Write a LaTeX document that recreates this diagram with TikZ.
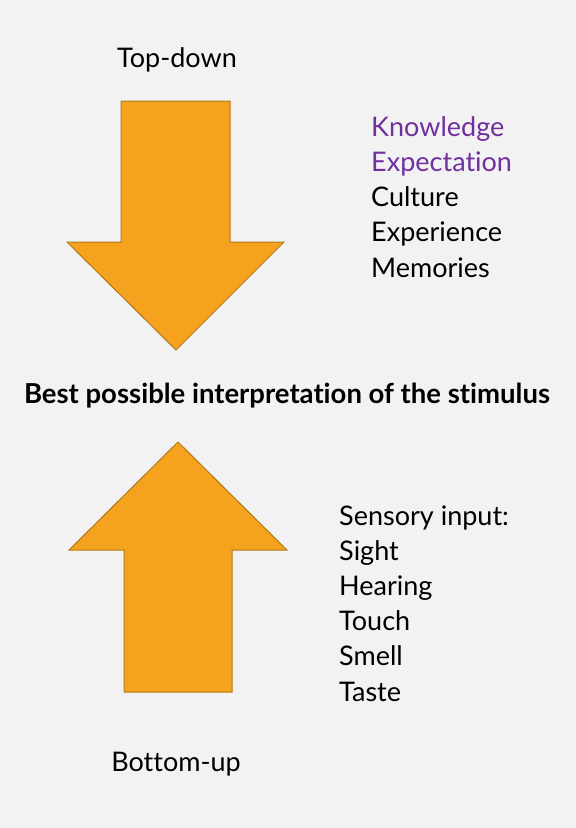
\documentclass[tikz,border=0pt]{standalone}
\usepackage{fontspec}
\setmainfont{Lato}[Ligatures={NoCommon}]
\usepackage{tikz}
\usetikzlibrary{positioning}
\definecolor{bggray}{HTML}{F2F2F2}
\definecolor{arroworange}{HTML}{F5A31E}
\definecolor{arrowedge}{HTML}{B07A18}
\definecolor{listpurple}{HTML}{7030A0}

\begin{document}
\begin{tikzpicture}[x=1pt, y=-1pt]
    % Define styles for the shapes and texts
    \tikzstyle{bigarrow} = [
        fill=arroworange, draw=arrowedge, line width=1pt,
        line join=miter
    ]
    \tikzstyle{caption} = [
        inner sep=0, anchor=base, font=\fontsize{27}{32}\selectfont
    ]
    % (base of a list = baseline of its last line)
    \tikzstyle{itemlist} = [
        inner sep=0, anchor=base west, align=left,
        font=\fontsize{27}{35.2}\selectfont
    ]

    % Background
    \fill[bggray] (0,0) rectangle (576,828);
    \useasboundingbox (0,0) rectangle (576,828);

    % Top-down arrow
    \draw[bigarrow] (121,101) -- (230,101) -- (230,242) -- (284,242)
        -- (176,350) -- (67,242) -- (121,242) -- cycle;

    % Bottom-up arrow
    \draw[bigarrow] (124,692) -- (232,692) -- (232,550) -- (287,550)
        -- (178,442) -- (69,550) -- (124,550) -- cycle;

    % Captions
    \node[caption] (top_down) at (177,67) {Top-down};
    \node[caption] (bottom_up) at (176,771) {Bottom-up};
    \node[
        inner sep=0, anchor=base,
        font=\fontsize{27.5}{32}\bfseries\selectfont
    ] (best) at (287,403) {Best possible interpretation of the stimulus};

    % Top-down list
    \node[itemlist] (knowledge) at (371,277) {%
        \textcolor{listpurple}{Knowledge}\\
        \textcolor{listpurple}{Expectation}\\
        Culture\\
        Experience\\
        Memories};

    % Bottom-up list
    \node[itemlist] (sensory) at (339,701) {%
        Sensory input:\\
        Sight\\
        Hearing\\
        Touch\\
        Smell\\
        Taste};

\end{tikzpicture}
\end{document}
